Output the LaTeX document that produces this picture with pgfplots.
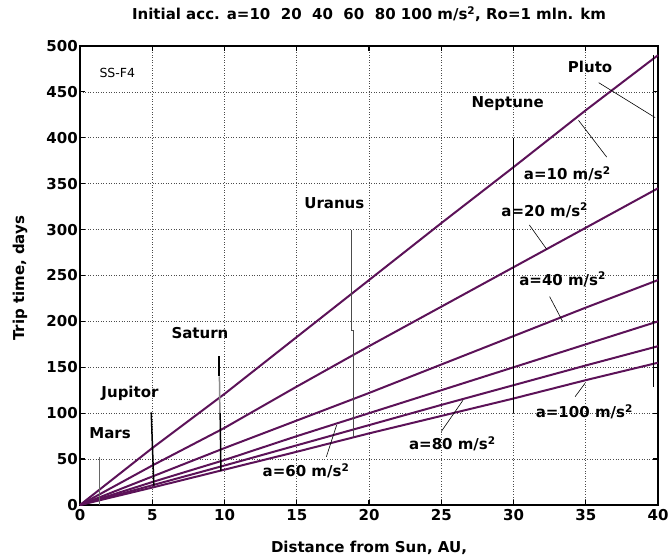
\documentclass[border=0pt]{standalone}
\usepackage{fontspec}
\setmainfont{DejaVu Sans}
\usepackage{pgfplots}
\pgfplotsset{compat=1.18}
\definecolor{curve}{RGB}{92,18,88}
\newcommand{\lab}{\fontsize{15}{17}\selectfont\bfseries}
\begin{document}
\begin{tikzpicture}
\useasboundingbox (-80pt,-51pt) rectangle (591pt,505pt);
\begin{axis}[
    scale only axis,
    width=578pt, height=459pt,
    xmin=0, xmax=40, ymin=0, ymax=500,
    xtick={0,5,...,40}, ytick={0,50,...,500},
    xtick pos=both, ytick pos=both,
    tick align=inside, major tick length=5pt,
    every tick/.style={black, line width=1.2pt},
    axis line style={black, line width=1.6pt},
    grid=major,
    major grid style={black!70, line width=0.6pt, dotted},
    /pgf/number format/assume math mode=true,
    tick label style={font=\lab},
    yticklabel style={inner sep=2pt},
    xticklabel style={inner sep=4pt},
    every axis title shift=0pt,
    title={Initial acc. a=10\ \ 20\ \ 40\ \ 60\ \ 80 100 m/s\textsuperscript{2}, Ro=1 mln. km},
    title style={font=\lab, at={(axis description cs:0.5,1.0697)}, anchor=center},
    xlabel={Distance from Sun, AU,},
    xlabel style={font=\lab, at={(axis description cs:0.5,-0.0937)}, anchor=center},
    ylabel={Trip time, days},
    ylabel style={font=\lab, at={(axis description cs:-0.1038,0.494)}, anchor=center},
    clip=false,
]
% trip time curves, a = 10, 20, 40, 60, 80, 100 m/s^2
\addplot[curve, line width=2pt] coordinates {(0,0) (5,62) (10,121) (15,183) (20,245) (25,307) (30,368) (35,430) (40,490)};
\addplot[curve, line width=2pt] coordinates {(0,0) (5,43) (10,84) (15,129) (20,173) (25,216) (30,259) (35,302) (40,345)};
\addplot[curve, line width=2pt] coordinates {(0,0) (5,31) (10,62) (15,92) (20,122) (25,153) (30,184) (35,215) (40,245)};
\addplot[curve, line width=2pt] coordinates {(0,0) (5,25) (10,49) (15,75) (20,100) (25,125) (30,150) (35,175) (40,200)};
\addplot[curve, line width=2pt] coordinates {(0,0) (5,21.5) (10,43) (15,65) (20,87) (25,109) (30,130.5) (35,152) (40,173)};
\addplot[curve, line width=2pt] coordinates {(0,0) (5,19) (10,38.5) (15,58) (20,78) (25,97) (30,116) (35,136) (40,155)};

% planet distance markers
\addplot[black!60, line width=0.6pt] coordinates {(1.35,0) (1.35,52)};
\addplot[black, line width=1.5pt] coordinates {(4.93,101) (5.11,21)};
\addplot[black, line width=1.5pt] coordinates {(9.63,162) (9.63,140)};
\addplot[black!45, line width=1.5pt] coordinates {(9.65,140) (9.68,100)};
\addplot[black, line width=1.5pt] coordinates {(9.7,100) (9.75,37)};
\addplot[black!70, line width=0.6pt] coordinates {(18.8,300) (18.8,190) (18.9,190) (18.9,74)};
\addplot[black, line width=0.8pt] coordinates {(30,400) (30,100)};
\addplot[black, line width=0.8pt] coordinates {(39.7,490) (39.7,128)};

% pointer lines
\addplot[black, line width=0.6pt] coordinates {(35.9,460) (39.8,422)};
\addplot[black, line width=0.6pt] coordinates {(34.5,419) (36.45,379)};
\addplot[black, line width=0.6pt] coordinates {(31.1,305) (32.3,278.5)};
\addplot[black, line width=0.6pt] coordinates {(32.5,227) (33.4,200)};
\addplot[black, line width=0.6pt] coordinates {(17.76,87) (17.05,52.6)};
\addplot[black, line width=0.6pt] coordinates {(26.5,114) (25.0,80)};
\addplot[black, line width=0.6pt] coordinates {(34.95,132.5) (34.26,118)};

\node[font=\fontsize{12.5}{14}\selectfont] at (axis cs:2.58,471) {SS-F4};
\node[font=\lab] at (axis cs:2.08,78) {Mars};
\node[font=\lab] at (axis cs:3.46,122) {Jupitor};
\node[font=\lab] at (axis cs:8.3,187) {Saturn};
\node[font=\lab] at (axis cs:17.6,329) {Uranus};
\node[font=\lab] at (axis cs:29.6,437.6) {Neptune};
\node[font=\lab] at (axis cs:35.3,477) {Pluto};
\node[font=\lab] at (axis cs:33.72,361) {a=10 m/s\textsuperscript{2}};
\node[font=\lab] at (axis cs:32.16,321) {a=20 m/s\textsuperscript{2}};
\node[font=\lab] at (axis cs:33.4,245.8) {a=40 m/s\textsuperscript{2}};
\node[font=\lab] at (axis cs:15.64,37.4) {a=60 m/s\textsuperscript{2}};
\node[font=\lab] at (axis cs:25.77,66.4) {a=80 m/s\textsuperscript{2}};
\node[font=\lab] at (axis cs:34.9,101.6) {a=100 m/s\textsuperscript{2}};
\end{axis}
\end{tikzpicture}
\end{document}
